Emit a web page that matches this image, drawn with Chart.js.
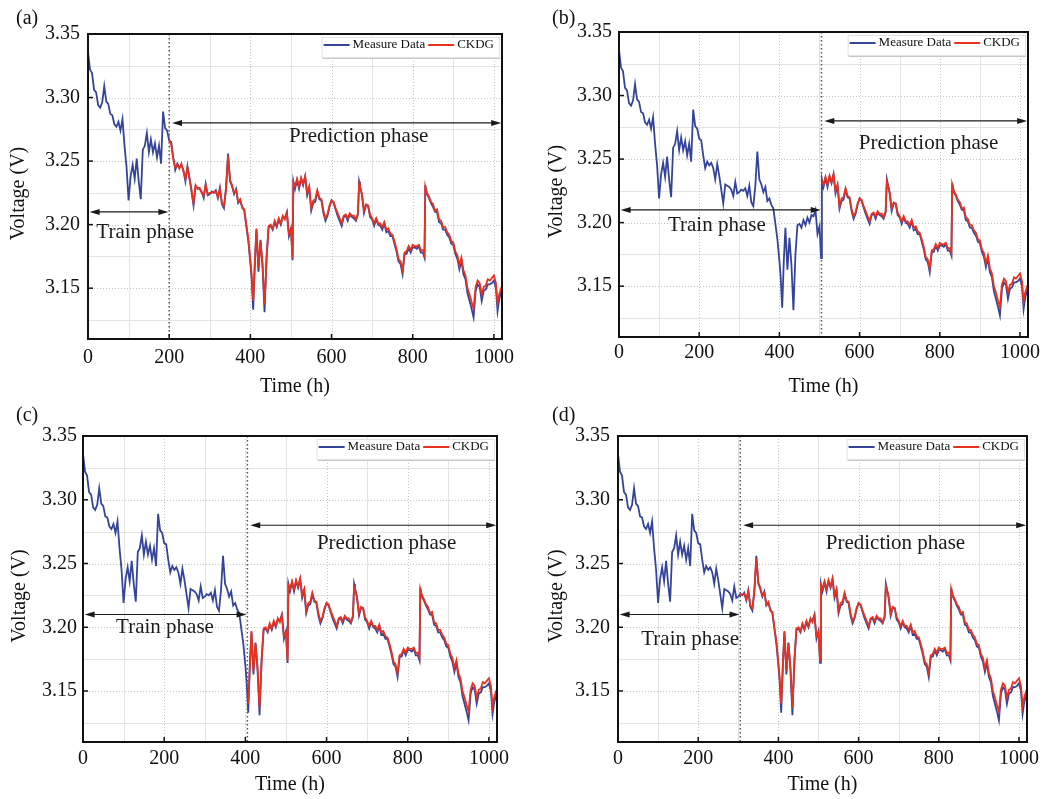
<!DOCTYPE html>
<html>
<head>
<meta charset="utf-8">
<script src="https://cdn.jsdelivr.net/npm/chart.js@4.4.1/dist/chart.umd.min.js"></script>
<style>
  body { margin: 0; background: #fff; width: 1047px; height: 799px; position: relative; overflow: hidden; font-family: "Liberation Serif", "Times New Roman", serif; }
  .panel { position: absolute; }
  .tag { position: absolute; font-size: 20px; line-height: 20px; color: #111; }
</style>
</head>
<body>
<div class="panel" style="left:0;top:0"><canvas id="chartA" width="520" height="400"></canvas></div>
<div class="panel" style="left:520px;top:0"><canvas id="chartB" width="527" height="400"></canvas></div>
<div class="panel" style="left:0;top:400px"><canvas id="chartC" width="520" height="399"></canvas></div>
<div class="panel" style="left:520px;top:400px"><canvas id="chartD" width="527" height="399"></canvas></div>
<div class="tag" style="left:16px;top:7px">(a)</div>
<div class="tag" style="left:552px;top:7px">(b)</div>
<div class="tag" style="left:16px;top:404px">(c)</div>
<div class="tag" style="left:552px;top:404px">(d)</div>

<script>
// time axis (h) and measured voltage (V)
const times = [
  0, 5, 10, 15, 20, 25, 30, 35, 40, 45, 50, 55, 60, 65, 70, 75, 80, 85, 90, 95,
  100, 105, 110, 115, 120, 125, 130, 135, 140, 145, 150, 155, 160, 165, 170, 175, 180, 185, 190, 195,
  200, 205, 210, 215, 220, 225, 230, 235, 240, 245, 250, 255, 260, 265, 270, 275, 280, 285, 290, 295,
  300, 305, 310, 315, 320, 325, 330, 335, 340, 345, 350, 355, 360, 365, 370, 375, 380, 385, 390, 395,
  400, 403, 407, 411, 415, 420, 425, 430, 435, 440, 445, 450, 455, 460, 465, 470, 475, 480, 485, 490, 495,
  500, 504, 506, 510, 515, 520, 525, 530, 535, 540, 545, 550, 555, 560, 565, 570, 575, 580, 585, 590, 595,
  600, 605, 610, 615, 620, 625, 630, 635, 640, 645, 650, 655, 660, 665, 668, 670, 675, 680, 685, 690, 695,
  700, 705, 710, 715, 720, 725, 730, 735, 740, 745, 750, 755, 760, 765, 770, 775, 780, 785, 790, 795,
  800, 805, 810, 815, 820, 825, 829, 831, 835, 840, 845, 850, 855, 860, 865, 870, 875, 880, 885, 890, 895,
  900, 905, 910, 915, 920, 925, 930, 935, 940, 945, 950, 955, 960, 965, 970, 975, 980, 985, 990, 995,
  1000, 1005, 1009, 1013, 1017, 1020
];
const measured = [
  3.336, 3.322, 3.319, 3.306, 3.304, 3.294, 3.292, 3.296, 3.309, 3.297, 3.295, 3.287, 3.286, 3.279, 3.277, 3.281, 3.274, 3.283, 3.262, 3.245,
  3.219, 3.238, 3.247, 3.236, 3.252, 3.234, 3.220, 3.259, 3.262, 3.272, 3.257, 3.267, 3.257, 3.264, 3.253, 3.262, 3.248, 3.289, 3.276, 3.274,
  3.266, 3.265, 3.253, 3.243, 3.248, 3.245, 3.247, 3.243, 3.234, 3.246, 3.237, 3.226, 3.215, 3.230, 3.229, 3.228, 3.226, 3.221, 3.232, 3.223,
  3.224, 3.226, 3.225, 3.227, 3.221, 3.229, 3.216, 3.213, 3.229, 3.256, 3.234, 3.230, 3.224, 3.228, 3.217, 3.219, 3.214, 3.211, 3.199, 3.187,
  3.170, 3.158, 3.133, 3.170, 3.196, 3.163, 3.188, 3.167, 3.131, 3.175, 3.198, 3.199, 3.196, 3.202, 3.198, 3.204, 3.200, 3.206, 3.205, 3.210, 3.191,
  3.197, 3.172, 3.234, 3.228, 3.235, 3.228, 3.236, 3.231, 3.238, 3.223, 3.229, 3.211, 3.217, 3.218, 3.226, 3.220, 3.219, 3.209, 3.203, 3.207, 3.214,
  3.219, 3.217, 3.212, 3.207, 3.203, 3.199, 3.206, 3.207, 3.203, 3.208, 3.206, 3.205, 3.203, 3.208, 3.234, 3.231, 3.223, 3.209, 3.215, 3.215, 3.206,
  3.204, 3.199, 3.204, 3.200, 3.199, 3.196, 3.201, 3.194, 3.195, 3.191, 3.191, 3.185, 3.179, 3.171, 3.169, 3.161, 3.177, 3.177, 3.182, 3.178,
  3.182, 3.182, 3.181, 3.183, 3.178, 3.178, 3.174, 3.231, 3.224, 3.221, 3.217, 3.214, 3.210, 3.210, 3.202, 3.201, 3.196, 3.196, 3.192, 3.190, 3.185,
  3.184, 3.177, 3.173, 3.165, 3.172, 3.161, 3.157, 3.146, 3.140, 3.134, 3.127, 3.148, 3.153, 3.151, 3.140, 3.148, 3.149, 3.153, 3.153, 3.154,
  3.156, 3.150, 3.132, 3.141, 3.146, 3.143
];
// CKDG output, aligned with times from ckdgStart on
const ckdgStart = 200;
const ckdg = [
  3.267, 3.263, 3.252, 3.245, 3.247, 3.244, 3.248, 3.242, 3.236, 3.245, 3.236, 3.228, 3.217, 3.231, 3.228, 3.229, 3.225, 3.223, 3.231, 3.224,
  3.225, 3.225, 3.226, 3.226, 3.222, 3.228, 3.217, 3.215, 3.227, 3.254, 3.235, 3.231, 3.225, 3.227, 3.218, 3.220, 3.213, 3.212, 3.200, 3.189,
  3.172, 3.161, 3.140, 3.168, 3.197, 3.166, 3.187, 3.169, 3.137, 3.173, 3.199, 3.200, 3.197, 3.203, 3.199, 3.205, 3.201, 3.207, 3.204, 3.209, 3.193,
  3.196, 3.174, 3.233, 3.230, 3.236, 3.230, 3.237, 3.232, 3.238, 3.225, 3.230, 3.213, 3.219, 3.220, 3.227, 3.221, 3.220, 3.211, 3.205, 3.208, 3.215,
  3.219, 3.218, 3.213, 3.209, 3.205, 3.201, 3.207, 3.208, 3.205, 3.209, 3.207, 3.207, 3.204, 3.209, 3.232, 3.230, 3.224, 3.211, 3.216, 3.215, 3.208,
  3.205, 3.201, 3.205, 3.201, 3.201, 3.198, 3.202, 3.196, 3.197, 3.193, 3.192, 3.187, 3.181, 3.173, 3.171, 3.164, 3.178, 3.179, 3.183, 3.180,
  3.184, 3.183, 3.183, 3.184, 3.180, 3.180, 3.176, 3.230, 3.225, 3.222, 3.218, 3.216, 3.211, 3.212, 3.204, 3.203, 3.198, 3.198, 3.194, 3.192, 3.187,
  3.186, 3.179, 3.176, 3.168, 3.174, 3.164, 3.160, 3.150, 3.145, 3.139, 3.134, 3.151, 3.156, 3.154, 3.145, 3.151, 3.152, 3.157, 3.156, 3.158,
  3.160, 3.154, 3.138, 3.145, 3.149, 3.146
];
// train / prediction split for panels a..d
const splitTimes = [200, 505, 405, 305];
const xTicks = [0, 200, 400, 600, 800, 1000];
const xMinor = [100, 300, 500, 700, 900];
const yTicks = [3.15, 3.20, 3.25, 3.30, 3.35];
const yMinor = [3.125, 3.175, 3.225, 3.275, 3.325];
const trainArrowV = 3.21;
const predArrowV = 3.28;

const blue = "#34449a";
const red = "#e8321f";
const serif = "Liberation Serif";

// layout for each canvas (chart area placement, label anchors)
const panels = [
  { id: "chartA", yw: 88, top: 34, right: 18, xh: 61, yTitleX: 19, xTitlePad: 1, xTickPad: 7, yTickPad: 8, train: [141, 3.1937], pred: [667, 3.269] },
  { id: "chartB", yw: 99, top: 32, right: 19, xh: 63, yTitleX: 37, xTitlePad: 1, xTickPad: 4, yTickPad: 7, train: [244, 3.198], pred: [772, 3.262] },
  { id: "chartC", yw: 83, top: 36, right: 23, xh: 57, yTitleX: 20, xTitlePad: 2, xTickPad: 5, yTickPad: 6, train: [202, 3.200], pred: [748, 3.266] },
  { id: "chartD", yw: 98, top: 36, right: 20, xh: 57, yTitleX: 37, xTitlePad: 2, xTickPad: 5, yTickPad: 8, train: [180, 3.1906], pred: [692, 3.266] },
];

function arrow(ctx, x1, x2, y) {
  ctx.beginPath();
  ctx.moveTo(x1 + 6, y);
  ctx.lineTo(x2 - 6, y);
  ctx.stroke();
  [[x1, 1], [x2, -1]].forEach(([x, d]) => {
    ctx.beginPath();
    ctx.moveTo(x, y);
    ctx.lineTo(x + d * 10, y - 3);
    ctx.lineTo(x + d * 10, y + 3);
    ctx.closePath();
    ctx.fill();
  });
}

const decor = {
  id: "decor",
  beforeDatasetsDraw(chart, args, opts) {
    const { ctx, chartArea: a, scales: { x, y } } = chart;
    ctx.save();
    ctx.lineWidth = 1;
    // light solid minor grid
    ctx.strokeStyle = "#e4e4e4";
    xMinor.forEach(v => {
      const px = Math.round(x.getPixelForValue(v)) + 0.5;
      ctx.beginPath(); ctx.moveTo(px, a.top); ctx.lineTo(px, a.bottom); ctx.stroke();
    });
    yMinor.forEach(v => {
      const py = Math.round(y.getPixelForValue(v)) + 0.5;
      ctx.beginPath(); ctx.moveTo(a.left, py); ctx.lineTo(a.right, py); ctx.stroke();
    });
    // dotted major grid
    ctx.strokeStyle = "#c4c4c4";
    ctx.setLineDash([1, 2]);
    xTicks.forEach(v => {
      const px = Math.round(x.getPixelForValue(v)) + 0.5;
      ctx.beginPath(); ctx.moveTo(px, a.top); ctx.lineTo(px, a.bottom); ctx.stroke();
    });
    yTicks.forEach(v => {
      const py = Math.round(y.getPixelForValue(v)) + 0.5;
      ctx.beginPath(); ctx.moveTo(a.left, py); ctx.lineTo(a.right, py); ctx.stroke();
    });
    ctx.restore();
  },
  afterDatasetsDraw(chart, args, opts) {
    const { ctx, chartArea: a, scales: { x, y } } = chart;
    const p = opts.panel;
    const split = splitTimes[p.idx];
    ctx.save();

    // split line
    ctx.strokeStyle = "#555";
    ctx.lineWidth = 1.5;
    ctx.setLineDash([1.5, 2.5]);
    const sx = x.getPixelForValue(split);
    ctx.beginPath(); ctx.moveTo(sx, a.top); ctx.lineTo(sx, a.bottom); ctx.stroke();
    ctx.setLineDash([]);

    // phase arrows
    ctx.strokeStyle = "#1a1a1a";
    ctx.fillStyle = "#1a1a1a";
    ctx.lineWidth = 1.2;
    arrow(ctx, x.getPixelForValue(4), x.getPixelForValue(split - 2), y.getPixelForValue(trainArrowV));
    arrow(ctx, x.getPixelForValue(split + 7), x.getPixelForValue(1018), y.getPixelForValue(predArrowV));

    ctx.font = "21px " + serif;
    ctx.textAlign = "center";
    ctx.textBaseline = "middle";
    ctx.fillText("Train phase", x.getPixelForValue(p.train[0]), y.getPixelForValue(p.train[1]));
    ctx.fillText("Prediction phase", x.getPixelForValue(p.pred[0]), y.getPixelForValue(p.pred[1]));

    // y axis title, a little below the middle of the plot
    ctx.save();
    ctx.font = "20px " + serif;
    ctx.fillStyle = "#111";
    ctx.translate(p.yTitleX, (a.top + a.bottom) / 2 + 7);
    ctx.rotate(-Math.PI / 2);
    ctx.fillText("Voltage (V)", 0, 0);
    ctx.restore();

    // frame and inward ticks
    ctx.strokeStyle = "#111";
    ctx.lineWidth = 2;
    ctx.strokeRect(a.left, a.top, a.right - a.left, a.bottom - a.top);
    ctx.lineWidth = 1.5;
    yTicks.forEach(v => {
      const py = y.getPixelForValue(v);
      ctx.beginPath(); ctx.moveTo(a.left, py); ctx.lineTo(a.left + 5, py); ctx.stroke();
    });
    xTicks.forEach(v => {
      const px = x.getPixelForValue(v);
      ctx.beginPath(); ctx.moveTo(px, a.bottom); ctx.lineTo(px, a.bottom - 5); ctx.stroke();
    });

    // legend box inside the top right corner
    ctx.font = "13px " + serif;
    ctx.textAlign = "left";
    const items = chart.data.datasets.map(d => ({ label: d.label, color: d.borderColor }));
    let w = 4;
    items.forEach(it => { w += 26 + 3 + ctx.measureText(it.label).width + 3; });
    const bx = a.right - 3 - w, by = a.top + 3, bh = 20;
    ctx.fillStyle = "#fff";
    ctx.fillRect(bx, by, w, bh);
    ctx.strokeStyle = "#e2e2e2";
    ctx.lineWidth = 1;
    ctx.strokeRect(bx + 0.5, by + 0.5, w, bh);
    ctx.strokeStyle = "#c8c8c8";
    ctx.beginPath(); ctx.moveTo(bx + 1, by + bh + 1.5); ctx.lineTo(bx + w + 1, by + bh + 1.5); ctx.stroke();
    let cx = bx + 2;
    const cy = by + 8;
    items.forEach(it => {
      ctx.strokeStyle = it.color;
      ctx.lineWidth = 2;
      ctx.beginPath(); ctx.moveTo(cx, cy); ctx.lineTo(cx + 26, cy); ctx.stroke();
      cx += 29;
      ctx.fillStyle = "#111";
      ctx.fillText(it.label, cx, cy);
      cx += ctx.measureText(it.label).width + 3;
    });
    ctx.restore();
  }
};

function makePanel(p, idx) {
  p.idx = idx;
  const split = splitTimes[idx];
  const i0 = times.indexOf(ckdgStart);
  const measurePts = times.map((t, i) => ({ x: t, y: measured[i] }));
  const ckdgPts = ckdg.map((v, k) => ({ x: times[i0 + k], y: v })).filter(pt => pt.x >= split);
  const tickFont = { family: serif, size: 20 };

  new Chart(document.getElementById(p.id), {
    type: "line",
    data: {
      datasets: [
        { label: "Measure Data", data: measurePts, borderColor: blue, borderWidth: 1.8, pointRadius: 0, tension: 0, order: 2 },
        { label: "CKDG", data: ckdgPts, borderColor: red, borderWidth: 1.8, pointRadius: 0, tension: 0, order: 1 },
      ],
    },
    options: {
      responsive: false,
      animation: false,
      layout: { padding: { left: 0, top: p.top, right: p.right, bottom: 0 } },
      plugins: {
        legend: { display: false },
        tooltip: { enabled: false },
        decor: { panel: p },
      },
      scales: {
        x: {
          type: "linear",
          min: 0,
          max: 1020,
          afterBuildTicks: s => { s.ticks = xTicks.map(v => ({ value: v })); },
          afterFit: s => { s.height = p.xh; s.paddingLeft = 0; s.paddingRight = 0; },
          grid: { display: false, drawTicks: false },
          border: { display: false },
          ticks: { font: tickFont, color: "#111", padding: p.xTickPad, maxRotation: 0, callback: v => String(v) },
          title: { display: true, text: "Time (h)", font: tickFont, color: "#111", padding: { top: 0, bottom: p.xTitlePad } },
        },
        y: {
          min: 3.11,
          max: 3.35,
          afterBuildTicks: s => { s.ticks = yTicks.map(v => ({ value: v })); },
          afterFit: s => { s.width = p.yw; s.paddingTop = 0; s.paddingBottom = 0; },
          grid: { display: false, drawTicks: false },
          border: { display: false },
          ticks: { font: tickFont, color: "#111", padding: p.yTickPad, callback: v => Number(v).toFixed(2) },
        },
      },
    },
    plugins: [decor],
  });
}

panels.forEach(makePanel);
</script>
</body>
</html>
